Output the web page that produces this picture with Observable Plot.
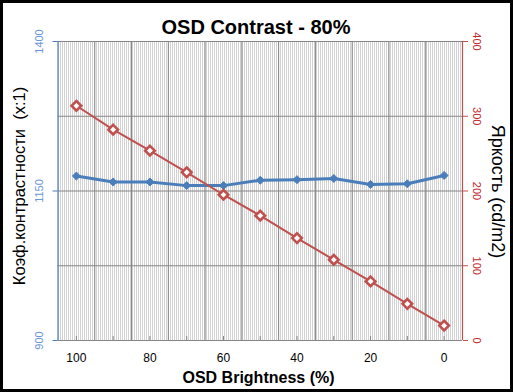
<!DOCTYPE html>
<html>
<head>
<meta charset="utf-8">
<script src="https://cdn.jsdelivr.net/npm/d3@7"></script>
<script src="https://cdn.jsdelivr.net/npm/@observablehq/plot@0.6"></script>
<style>
  html, body { margin: 0; padding: 0; background: #fff; }
  #wrap { position: relative; width: 513px; height: 392px; background: #fff; overflow: hidden; }
  #wrap svg { position: absolute; left: 0; top: 0; }
  #border { position: absolute; left: 0; top: 0; width: 513px; height: 392px; box-sizing: border-box; border: 3.5px solid #000; pointer-events: none; }
</style>
</head>
<body>
<div id="wrap"><div id="border"></div></div>
<script>
// ---- data ----
const brightness = [100, 90, 80, 70, 60, 50, 40, 30, 20, 10, 0];
const contrast   = [1175, 1165, 1165, 1159, 1159, 1168, 1169, 1171, 1161, 1162, 1176];
const luminance  = [314, 282, 254, 225, 195, 167, 137, 108, 79, 49, 20];
const leftTicks  = [900, 1150, 1400];
const rightTicks = [0, 100, 200, 300, 400];
const xTicks     = [100, 80, 60, 40, 20, 0];
const title      = "OSD Contrast - 80%";
const xLabel     = "OSD Brightness (%)";
const yLabelLeft = "Коэф.контрастности  (x:1)";
const yLabelRight= "Яркость (cd/m2)";

// secondary axis (0..400) mapped onto primary (900..1400)
const toLeft = v => 900 + v * 500 / 400;

const table = brightness.map((b, i) => ({b, c: contrast[i], l: toLeft(luminance[i])}));
const gridX = brightness.slice(0, -1).map(d => d - 5);
const gridY = rightTicks.slice(1).map(toLeft);

const font = "Liberation Sans, Arial, sans-serif";
const blue = "#4a7ebb", red = "#c0504d", grid = "#868686";

const ml = 57.5, mr = 51, mt = 41, mb = 52, W = 513, H = 392;
const cx = (ml + (W - mr)) / 2, cy = (mt + (H - mb)) / 2;

const chart = Plot.plot({
  width: W, height: H,
  marginLeft: ml, marginRight: mr, marginTop: mt, marginBottom: mb,
  style: {fontFamily: font, background: "transparent", overflow: "visible"},
  x: {domain: [105, -5]},
  y: {domain: [900, 1400]},
  marks: [
    Plot.frame({fill: "url(#hatch)", stroke: "none"}),
    Plot.ruleX(gridX, {stroke: grid, strokeWidth: 1}),
    Plot.ruleY(gridY, {stroke: grid, strokeWidth: 1}),
    Plot.ruleY([900], {stroke: grid, strokeWidth: 1.2}),
    Plot.axisX(brightness, {anchor: "bottom", tickSize: -4, stroke: grid, tickFormat: () => "", label: null}),
    Plot.ruleX([105], {stroke: blue, strokeWidth: 1.2}),
    Plot.ruleX([-5], {stroke: red, strokeWidth: 1.2}),
    Plot.axisY(leftTicks, {anchor: "left", tickSize: 5, stroke: blue, tickFormat: () => "", label: null}),
    Plot.axisY(rightTicks.map(toLeft), {anchor: "right", tickSize: 5, stroke: red, tickFormat: () => "", label: null}),
    Plot.text(leftTicks, {y: d => d, text: d => String(d), frameAnchor: "left", dx: -18.5, rotate: -90, textAnchor: "middle", lineAnchor: "middle", fill: "#6a95d8", fontSize: 11}),
    Plot.text(rightTicks, {y: toLeft, text: d => String(d), frameAnchor: "right", dx: 14, rotate: 90, textAnchor: "middle", lineAnchor: "middle", fill: "#c0282d", fontSize: 11}),
    Plot.text(xTicks, {x: d => d, text: d => String(d), frameAnchor: "bottom", dy: 18, lineAnchor: "middle", fill: "#000", fontSize: 12}),
    // series
    Plot.line(table, {x: "b", y: "c", stroke: blue, strokeWidth: 3}),
    Plot.dot(table, {x: "b", y: "c", symbol: "diamond2", r: 3.6, fill: blue, stroke: blue, strokeWidth: 1}),
    Plot.line(table, {x: "b", y: "l", stroke: red, strokeWidth: 2}),
    Plot.dot(table, {x: "b", y: "l", symbol: "diamond2", r: 4.3, fill: "#fff", stroke: red, strokeWidth: 2.6}),
    // titles
    Plot.text([title], {frameAnchor: "top", dx: 255.5 - cx, dy: 33.5 - mt, lineAnchor: "bottom", fontSize: 20, fontWeight: "bold", fill: "#000"}),
    Plot.text([xLabel], {frameAnchor: "bottom", dx: 258 - cx, dy: 382 - (H - mb), lineAnchor: "bottom", fontSize: 16, fontWeight: "bold", fill: "#000"}),
    Plot.text([yLabelLeft], {frameAnchor: "left", dx: 19 - ml, dy: 185.5 - cy, rotate: -90, textAnchor: "middle", lineAnchor: "middle", fontSize: 16.5, fill: "#000"}),
    Plot.text([yLabelRight], {frameAnchor: "right", dx: 497.5 - (W - mr), dy: 191 - cy, rotate: 90, textAnchor: "middle", lineAnchor: "middle", fontSize: 18, fill: "#000"})
  ]
});

d3.select(chart).insert("defs", ":first-child").html(
  '<pattern id="hatch" x="-0.5" y="0" width="2" height="4" patternUnits="userSpaceOnUse">' +
  '<rect x="0" y="0" width="1" height="4" fill="#d2d2d2"></rect>' +
  '<rect x="1" y="0" width="1" height="4" fill="#ffffff"></rect></pattern>'
);

document.getElementById("wrap").insertBefore(chart, document.getElementById("border"));
</script>
</body>
</html>
